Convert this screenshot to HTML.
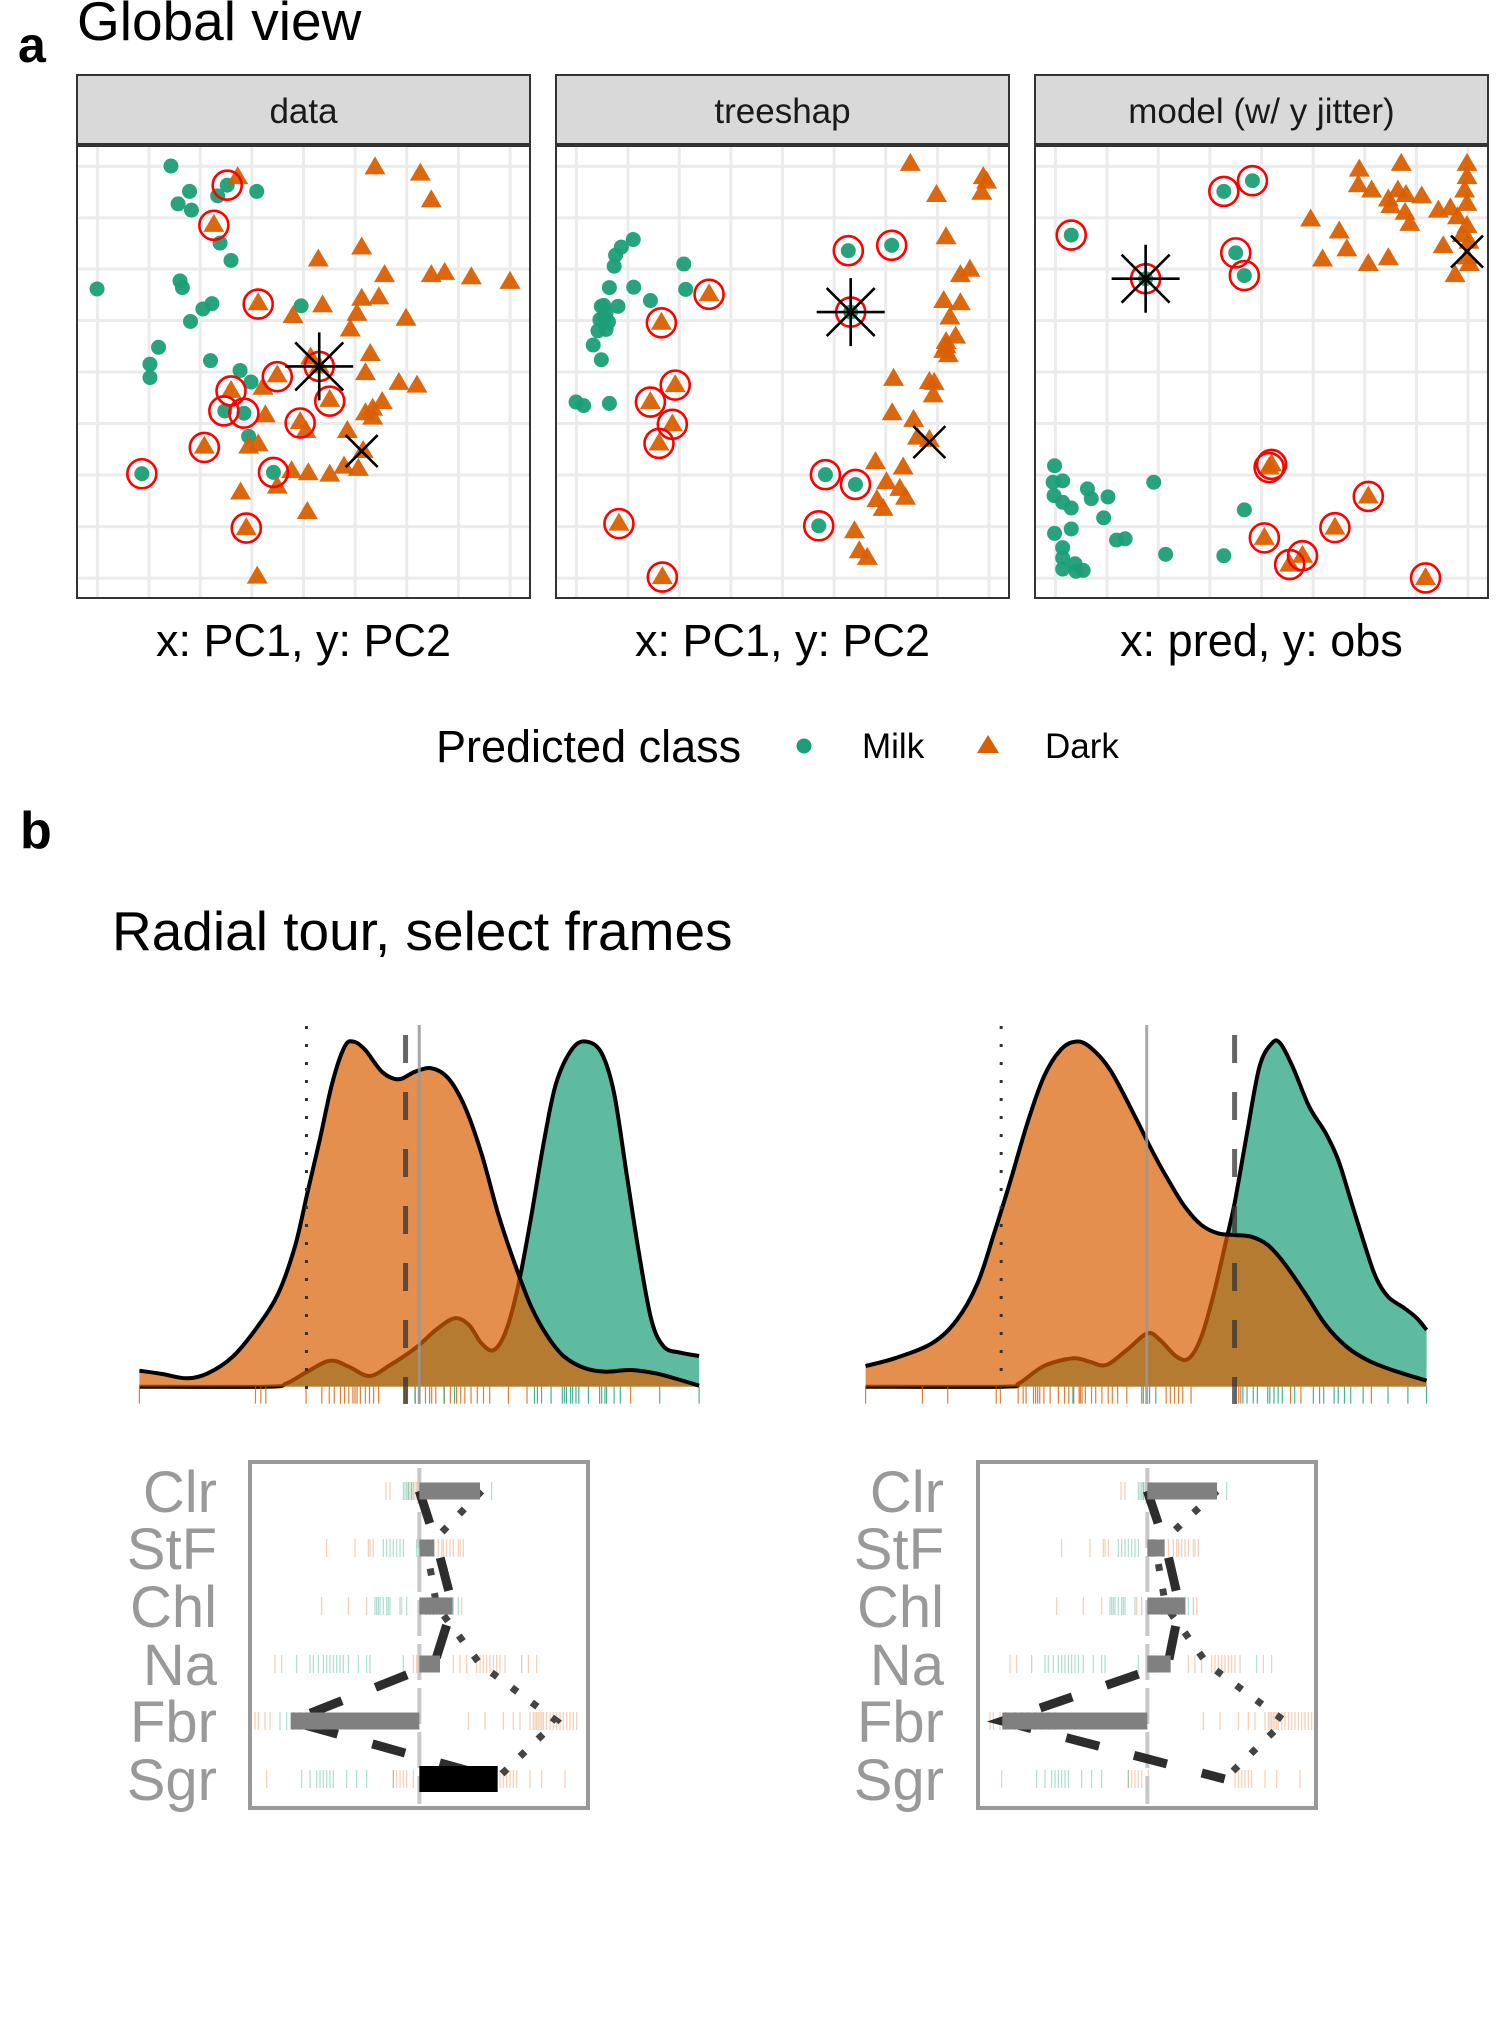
<!DOCTYPE html>
<html><head><meta charset="utf-8">
<style>
html,body{margin:0;padding:0;background:#fff;}
svg{display:block;font-family:"Liberation Sans",Arial,sans-serif;}
</style></head>
<body>
<svg id="fig" width="1500" height="2040" viewBox="0 0 1500 2040" xmlns="http://www.w3.org/2000/svg">
<g id="gA"></g>
<g id="gB"></g>
</svg>
<script>
const MILK='#1B9E77', DARK='#D95F02';
// ---------- Panel A data (x: 0..950 across panel, y: 330..1345 top->bottom) ----------
const panelTitles=['data','treeshap','model (w/ y jitter)'];
const axisLabels=['x: PC1, y: PC2','x: PC1, y: PC2','x: pred, y: obs'];
const p1Milk=[[197,375],[315,418],[377,432],[236,432],[295,442],[212,460],[240,474],[300,548],[323,587],[42,651],[216,633],[221,648],[283,684],[264,696],[238,724],[470,689],[171,782],[153,820],[153,850],[280,812],[342,834],[365,860],[310,925],[350,930],[360,982],[136,1066],[412,1063]];
const p1Dark=[[625,378],[720,392],[337,400],[743,452],[287,507],[597,558],[506,585],[645,620],[743,620],[771,615],[827,625],[908,635],[380,683],[515,688],[453,712],[597,673],[633,670],[587,707],[690,718],[573,742],[615,797],[605,840],[490,805],[420,845],[530,900],[675,862],[713,868],[323,880],[390,873],[395,935],[640,905],[620,920],[605,930],[620,940],[468,950],[480,970],[567,970],[600,1015],[380,1000],[360,1005],[267,1005],[450,1060],[485,1065],[530,1068],[560,1050],[590,1055],[343,1108],[420,1095],[483,1152],[355,1188],[378,1297],[508,825]];
const p1Hi=[[315,418],[287,508],[380,685],[420,848],[323,880],[308,925],[350,930],[530,903],[468,952],[267,1007],[136,1066],[412,1063],[355,1188],[508,825]];
const p1Star=[508,825], p1X=[597,1015];
const p2Milk=[[162,540],[137,557],[125,575],[122,600],[268,595],[112,648],[163,647],[272,652],[198,677],[100,688],[130,690],[105,705],[92,720],[105,742],[88,745],[78,777],[95,810],[95,690],[100,715],[110,725],[42,905],[58,913],[112,908],[613,565],[704,553],[618,703],[565,1068],[628,1090],[551,1183]];
const p2Dark=[[321,663],[221,727],[250,867],[198,905],[244,955],[216,998],[132,1178],[223,1298],[743,370],[896,400],[903,410],[893,435],[798,440],[818,535],[848,620],[868,608],[813,678],[848,683],[826,715],[838,758],[818,770],[813,790],[823,800],[818,780],[708,853],[783,860],[793,862],[791,890],[705,930],[750,945],[758,985],[783,990],[670,1040],[728,1052],[693,1085],[721,1100],[733,1120],[673,1125],[686,1145],[626,1195],[636,1240],[653,1255]];
const p2Hi=[[613,565],[704,553],[618,703],[565,1068],[628,1090],[551,1183],[321,663],[221,727],[250,867],[198,905],[244,955],[216,998],[132,1178],[223,1298]];
const p2Star=[618,703], p2X=[783,995];
const p3Milk=[[76,530],[396,432],[456,408],[421,570],[439,621],[232,628],[41,1048],[38,1085],[58,1082],[40,1115],[58,1130],[76,1143],[110,1100],[118,1122],[153,1118],[249,1085],[144,1165],[76,1190],[41,1200],[58,1232],[58,1255],[58,1280],[84,1268],[101,1283],[86,1285],[171,1215],[189,1212],[274,1247],[396,1250],[439,1147]];
const p3Dark=[[496,1045],[491,1052],[699,1117],[629,1187],[481,1210],[561,1250],[534,1270],[819,1300],[680,383],[768,370],[678,418],[706,430],[741,450],[761,430],[778,440],[811,443],[746,465],[776,480],[786,505],[578,495],[638,522],[654,562],[603,585],[699,595],[741,582],[846,475],[871,470],[906,370],[906,400],[901,430],[906,460],[886,490],[906,510],[856,555],[881,620],[906,580],[911,595],[896,530],[910,545]];
const p3Hi=[[76,530],[396,432],[456,408],[421,570],[439,621],[232,628],[496,1045],[491,1052],[699,1117],[629,1187],[481,1210],[561,1250],[534,1270],[819,1300]];
const p3Star=[232,628], p3X=[906,567];
const gridFracs=[0.045,0.159,0.272,0.386,0.5,0.614,0.728,0.842,0.956];

// ---------- Panel B density data (x: zoom units; y: zoom y, baseline 1160) ----------
const d1Dark=[[95,1112],[150,1122],[210,1135],[260,1120],[320,1070],[380,980],[430,880],[470,740],[500,580],[530,420],[560,250],[590,140],[612,125],[640,150],[680,215],[720,238],[760,215],[800,205],[840,235],[880,320],[920,460],[960,640],[1000,790],[1040,920],[1080,1010],[1120,1070],[1170,1105],[1220,1115],[1280,1110],[1340,1120],[1400,1140],[1445,1157]];
const d1Milk=[[95,1160],[400,1160],[450,1150],[500,1115],[555,1082],[600,1100],[650,1128],[700,1095],[760,1045],[810,990],[855,955],[890,975],[920,1030],[950,1050],[980,990],[1010,850],[1040,650],[1070,430],[1100,250],[1140,145],[1175,125],[1210,160],[1240,280],[1270,520],[1300,760],[1330,960],[1360,1040],[1400,1058],[1445,1068]];
const d1RugDark=[95,375,388,400,497,535,553,565,580,590,600,610,615,620,628,640,650,660,672,735,740,760,770,785,795,800,810,830,845,860,870,880,895,910,925,940,985,1030,1280];
const d1RugMilk=[760,830,855,1048,1055,1065,1088,1115,1120,1125,1135,1140,1148,1155,1178,1205,1210,1218,1222,1240,1255,1350,1445];
const d1Lines={dotted:498,dashed:737,solid:770};
const d2Dark=[[110,1098],[180,1075],[270,1030],[330,960],[380,850],[420,700],[460,540],[500,370],[540,230],[580,150],[615,125],[650,140],[700,210],[760,350],[800,450],[840,540],[880,620],[920,675],[960,700],[1000,705],[1040,710],[1080,735],[1120,790],[1170,880],[1220,975],[1270,1040],[1320,1080],[1380,1110],[1463,1142]];
const d2Milk=[[110,1160],[440,1160],[480,1150],[540,1098],[610,1075],[650,1085],[690,1095],[740,1050],[790,1000],[820,1020],[860,1070],[890,1075],[920,1010],[950,880],[980,720],[1000,610],[1030,400],[1060,200],[1090,130],[1110,130],[1140,200],[1180,320],[1220,400],[1250,480],[1280,600],[1310,720],[1340,830],[1370,890],[1410,925],[1440,955],[1463,990]];
const d2RugDark=[110,247,308,425,435,478,490,497,515,520,525,530,540,555,575,590,600,612,625,628,632,640,655,665,680,695,705,718,740,780,835,845,855,865,875,895,1010,1015,1135,1160,1330];
const d2RugMilk=[610,776,795,810,1020,1030,1045,1055,1080,1085,1095,1105,1115,1145,1190,1205,1215,1240,1250,1265,1280,1310,1370,1418,1463];
const d2Lines={dotted:437,dashed:1000,solid:788};

// ---------- Contribution (bar) panels; values in zoom units relative to zero ----------
const vars=['Clr','StF','Chl','Na','Fbr','Sgr'];
const b1Bars=[182,45,100,62,-386,235];
const b1Dashed=[0,55,100,45,-386,235];
const b1Dotted=[187,22,52,182,412,232];
const b2Bars=[209,52,114,70,-435,0];
const b2Dashed=[0,57,97,62,-435,232];
const b2Dotted=[209,25,55,180,412,232];
const rugDark=[[858,870,925,935,945,950],[680,765,805,810,820,960,985,1000,1015,1025,1030,1040,1050,1060,1075,1080,1090],[665,745,800,905,1000,1085],[525,545,940,950,960,1060,1080,1100,1130,1140,1150,1160,1170,1180,1190,1200,1215,1285,1310],[465,475,495,510,1105,1155,1210,1240,1260,1290,1300,1305,1310,1315,1320,1325,1330,1340,1350,1360,1370,1380,1390,1400,1410,1420,1430],[500,880,890,900,910,920,940,1200,1210,1220,1230,1240,1250,1290,1325,1395]];
const rugMilk=[[910,915,920,925,930,935,940,1175],[850,860,870,880,890,900,910,950,955],[825,830,835,840,850,860,865,870,900,920,980,990,1000,1010,1020,1030,1040,1050,1060,1075],[590,630,640,655,670,680,690,700,710,720,730,745,775,800,810,910,1265],[540,560,580,600,620,640,660],[605,630,650,660,670,680,690,700,740,770,800,880]];

// ---------- helpers ----------
const NS='http://www.w3.org/2000/svg';
function mk(parent,tag,attrs,text){const e=document.createElementNS(NS,tag);for(const k in attrs)e.setAttribute(k,attrs[k]);if(text!==undefined)e.textContent=text;parent.appendChild(e);return e;}
function smooth(pts){let d='M'+pts[0][0].toFixed(1)+','+pts[0][1].toFixed(1);for(let i=0;i<pts.length-1;i++){const p0=pts[i-1]||pts[i],p1=pts[i],p2=pts[i+1],p3=pts[i+2]||p2;const c1=[p1[0]+(p2[0]-p0[0])/6,p1[1]+(p2[1]-p0[1])/6],c2=[p2[0]-(p3[0]-p1[0])/6,p2[1]-(p3[1]-p1[1])/6];d+=' C'+c1[0].toFixed(1)+','+c1[1].toFixed(1)+' '+c2[0].toFixed(1)+','+c2[1].toFixed(1)+' '+p2[0].toFixed(1)+','+p2[1].toFixed(1);}return d;}

// ---------- Section A ----------
const gA=document.getElementById('gA');
let t=mk(gA,'text',{x:18,y:62,'font-size':50,'font-weight':'bold',fill:'#000'},'a');


t=mk(gA,'text',{x:77,y:40,'font-size':55,fill:'#000'},'Global view');


const panelX=[77,556,1035], PW=453, PT=146, PB=598;
const sets=[[p1Milk,p1Dark,p1Hi,p1Star,p1X],[p2Milk,p2Dark,p2Hi,p2Star,p2X],[p3Milk,p3Dark,p3Hi,p3Star,p3X]];
sets.forEach((s,i)=>{
  const x0=panelX[i];
  const sx=v=>x0+v/950*PW, sy=v=>PT+(v-330)/1015*(PB-PT);
  const g=mk(gA,'g',{});
  
  
  const strip=mk(g,'rect',{x:x0,y:75,width:PW,height:69,fill:'#D9D9D9',stroke:'#333',"stroke-width":2});
  
  
  const st=mk(g,'text',{x:x0+PW/2,y:123,'font-size':35,'text-anchor':'middle',fill:'#1A1A1A'},panelTitles[i]);
  
  
  mk(g,'rect',{x:x0,y:PT,width:PW,height:PB-PT,fill:'#fff'});
  gridFracs.forEach(f=>{
    const gl=mk(g,'line',{x1:x0+f*PW,x2:x0+f*PW,y1:PT,y2:PB,stroke:'#EBEBEB','stroke-width':3});
    
    
    const gh=mk(g,'line',{x1:x0,x2:x0+PW,y1:PT+f*(PB-PT),y2:PT+f*(PB-PT),stroke:'#EBEBEB','stroke-width':3});
    
    
  });
  s[0].forEach(p=>{const c=mk(g,'circle',{cx:sx(p[0]),cy:sy(p[1]),r:7.5,fill:MILK,'fill-opacity':0.95});
    
    });
  s[1].forEach(p=>{const cx=sx(p[0]),cy=sy(p[1]);const tr=mk(g,'polygon',{points:`${cx-10.5},${cy+7} ${cx+10.5},${cy+7} ${cx},${cy-11}`,fill:DARK,'fill-opacity':0.95});
    
    });
  s[2].forEach(p=>{const c=mk(g,'circle',{cx:sx(p[0]),cy:sy(p[1]),r:14.5,fill:'none',stroke:'#FF0000','stroke-width':2.6});
    
    });
  const [stx,sty]=[sx(s[3][0]),sy(s[3][1])];
  const star=mk(g,'path',{d:`M${stx-34},${sty}H${stx+34}M${stx},${sty-34}V${sty+34}M${stx-24},${sty-24}L${stx+24},${sty+24}M${stx-24},${sty+24}L${stx+24},${sty-24}`,stroke:'#000','stroke-width':2.6,fill:'none'});
  
  
  const [xx,xy]=[sx(s[4][0]),sy(s[4][1])];
  const cx=mk(g,'path',{d:`M${xx-16},${xy-16}L${xx+16},${xy+16}M${xx-16},${xy+16}L${xx+16},${xy-16}`,stroke:'#000','stroke-width':2.6});
  
  
  mk(g,'rect',{x:x0,y:PT,width:PW,height:PB-PT,fill:'none',stroke:'#333','stroke-width':2});
  const al=mk(g,'text',{x:x0+PW/2,y:656,'font-size':45,'text-anchor':'middle',fill:'#000'},axisLabels[i]);
  
  
});
// legend
const lg=mk(gA,'g',{});


t=mk(lg,'text',{x:436,y:762,'font-size':45,fill:'#000'},'Predicted class');


t=mk(lg,'circle',{cx:804,cy:746,r:7.5,fill:MILK});


t=mk(lg,'text',{x:862,y:758,'font-size':35,fill:'#000'},'Milk');


t=mk(lg,'polygon',{points:'977,753 999,753 988,735',fill:DARK});


t=mk(lg,'text',{x:1045,y:758,'font-size':35,fill:'#000'},'Dark');



// ---------- Section B ----------
const gB=document.getElementById('gB');
t=mk(gB,'text',{x:20,y:848,'font-size':52,'font-weight':'bold',fill:'#000'},'b');


t=mk(gB,'text',{x:112,y:950,'font-size':55,fill:'#000'},'Radial tour, select frames');



function density(ox,milk,dark,rugD,rugM,lines,name){
  const sx=v=>ox+v/2.412, sy=v=>1000+v/3;
  const g=mk(gB,'g',{});
  
  
  const base=sy(1160);
  const m=milk.map(p=>[sx(p[0]),sy(p[1])]), d=dark.map(p=>[sx(p[0]),sy(p[1])]);
  let pm=smooth(m);
  let e=mk(g,'path',{d:pm+`L${m[m.length-1][0]},${base}L${m[0][0]},${base}Z`,fill:MILK,'fill-opacity':0.7});
  
  
  e=mk(g,'path',{d:pm,fill:'none',stroke:'#000','stroke-width':4});
  
  
  let pd=smooth(d);
  e=mk(g,'path',{d:pd+`L${d[d.length-1][0]},${base}L${d[0][0]},${base}Z`,fill:DARK,'fill-opacity':0.7});
  
  
  e=mk(g,'path',{d:pd,fill:'none',stroke:'#000','stroke-width':4});
  
  
  rugD.forEach(v=>{const r=mk(g,'line',{x1:sx(v),x2:sx(v),y1:base,y2:base+17,stroke:DARK,'stroke-width':1.2,'stroke-opacity':0.8});
    
    });
  rugM.forEach(v=>{const r=mk(g,'line',{x1:sx(v),x2:sx(v),y1:base,y2:base+17,stroke:MILK,'stroke-width':1.2,'stroke-opacity':0.8});
    
    });
  e=mk(g,'line',{x1:sx(lines.dotted),x2:sx(lines.dotted),y1:1026,y2:1404,stroke:'#333','stroke-width':3,'stroke-dasharray':'3 15'});
  
  
  e=mk(g,'line',{x1:sx(lines.dashed),x2:sx(lines.dashed),y1:1035,y2:1404,stroke:'#333','stroke-opacity':0.75,'stroke-width':5,'stroke-dasharray':'28 29'});
  
  
  e=mk(g,'line',{x1:sx(lines.solid),x2:sx(lines.solid),y1:1025,y2:1404,stroke:'#999','stroke-opacity':0.85,'stroke-width':3});
  
  
}
density(100,d1Milk,d1Dark,d1RugDark,d1RugMilk,d1Lines,'density-frame-1');
density(820,d2Milk,d2Dark,d2RugDark,d2RugMilk,d2Lines,'density-frame-2');

function bars(ox,vals,dashed,dotted,labelX,name){
  const zero=ox+958/3, sx=v=>zero+v/3;
  const rowY=[1491,1548,1606,1664,1721,1779];
  const g=mk(gB,'g',{});
  
  
  const bx=ox+150, bw=338;
  mk(g,'rect',{x:bx,y:1462,width:bw,height:346,fill:'#fff'});
  vars.forEach((v,i)=>{
    const l=mk(g,'text',{x:labelX,y:rowY[i]+21,'font-size':58,'text-anchor':'end',fill:'#999'},v);
    
    
    rugDark[i].forEach(z=>{const r=mk(g,'line',{x1:sx(z-958)+(ox===100?0:7),x2:sx(z-958)+(ox===100?0:7),y1:rowY[i]-9,y2:rowY[i]+9,stroke:DARK,'stroke-opacity':0.3,'stroke-width':1.2});
      
      });
    rugMilk[i].forEach(z=>{const r=mk(g,'line',{x1:sx(z-958)+(ox===100?0:7),x2:sx(z-958)+(ox===100?0:7),y1:rowY[i]-9,y2:rowY[i]+9,stroke:MILK,'stroke-opacity':0.35,'stroke-width':1.2});
      
      });
  });
  let e=mk(g,'line',{x1:zero,x2:zero,y1:1468,y2:1804,stroke:'#C8C8C8','stroke-width':4,'stroke-dasharray':'36 8'});
  
  
  e=mk(g,'polyline',{points:dotted.map((v,i)=>sx(v)+','+rowY[i]).join(' '),fill:'none',stroke:'#444','stroke-width':7,'stroke-dasharray':'7 18'});
  
  
  e=mk(g,'polyline',{points:dashed.map((v,i)=>sx(v)+','+rowY[i]).join(' '),fill:'none',stroke:'#222','stroke-opacity':0.95,'stroke-width':9,'stroke-dasharray':'34 36'});
  
  
  vals.forEach((v,i)=>{
    const h=i===5?26:17;
    const r=mk(g,'rect',{x:Math.min(zero,sx(v)),y:rowY[i]-h/2,width:Math.abs(v)/3,height:h,fill:i===5?'#000':'#808080'});
    
    
  });
  e=mk(g,'rect',{x:bx,y:1462,width:bw,height:346,fill:'none',stroke:'#999','stroke-width':4});
  
  
}
bars(100,b1Bars,b1Dashed,b1Dotted,217,'contributions-frame-1');
bars(828,b2Bars,b2Dashed,b2Dotted,944,'contributions-frame-2');
</script>
</body></html>
